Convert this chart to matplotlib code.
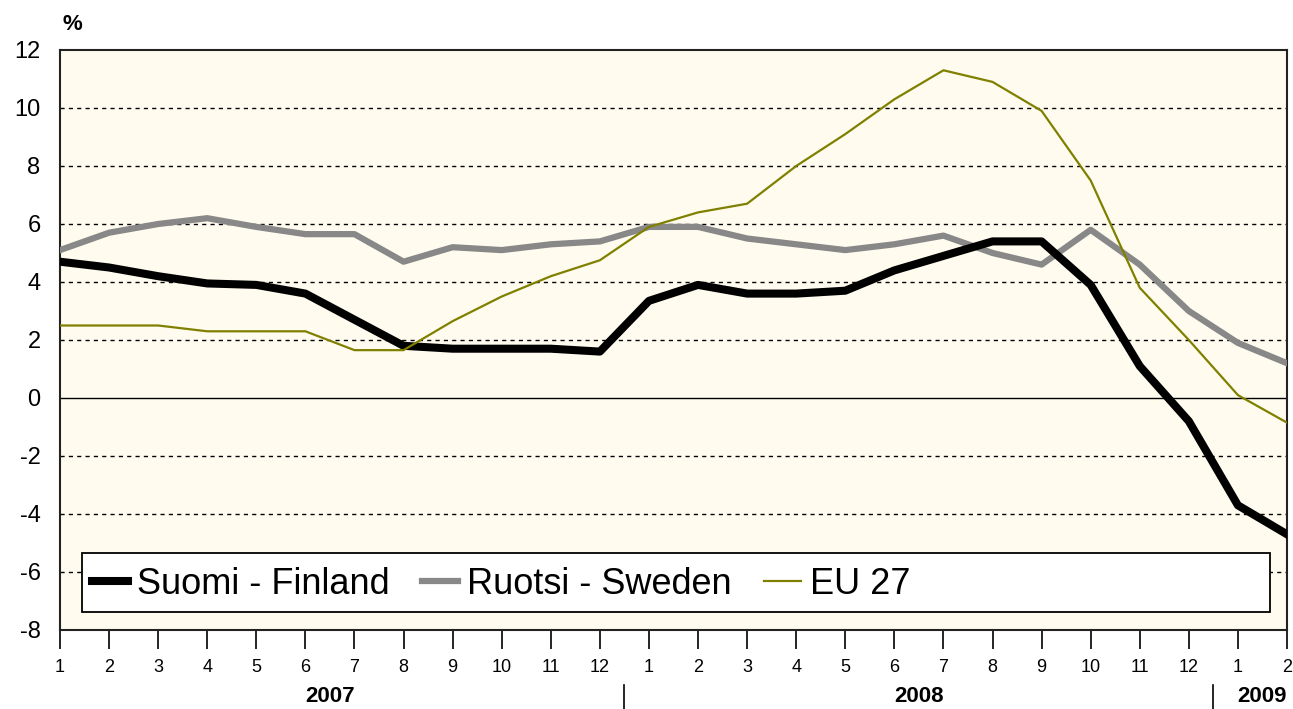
import numpy as np
import matplotlib.pyplot as plt
from matplotlib.patches import Rectangle

plt.rcParams['font.family'] = ['Liberation Sans', 'DejaVu Sans']

# month labels, 2007-01 .. 2009-02
months = [str(m) for m in range(1, 13)] * 2 + ['1', '2']
years = ['2007', '2008', '2009']

finland = [4.7, 4.5, 4.2, 3.95, 3.9, 3.6, 2.7, 1.8, 1.7, 1.7, 1.7, 1.6,
           3.35, 3.9, 3.6, 3.6, 3.7, 4.4, 4.9, 5.4, 5.4, 3.9, 1.1, -0.8,
           -3.7, -4.7]
sweden = [5.1, 5.7, 6.0, 6.2, 5.9, 5.65, 5.65, 4.7, 5.2, 5.1, 5.3, 5.4,
          5.9, 5.9, 5.5, 5.3, 5.1, 5.3, 5.6, 5.0, 4.6, 5.8, 4.6, 3.0,
          1.9, 1.2]
eu27 = [2.5, 2.5, 2.5, 2.3, 2.3, 2.3, 1.65, 1.65, 2.65, 3.5, 4.2, 4.75,
        5.9, 6.4, 6.7, 8.0, 9.1, 10.3, 11.3, 10.9, 9.9, 7.5, 3.8, 2.0,
        0.1, -0.85]

x = np.arange(len(months))

fig = plt.figure(figsize=(12.93, 7.09), dpi=100)
ax = fig.add_axes([60/1293, 1 - 630/709, 1227/1293, 580/709])
ax.set_facecolor('#fffcef')

# grid lines
for yv in range(-6, 12, 2):
    if yv == 0:
        ax.axhline(0, color='black', linewidth=1.0, zorder=1)
    else:
        ax.axhline(yv, color='black', linewidth=1.0, linestyle=(0, (3, 3)), zorder=1)

ax.plot(x, finland, color='black', linewidth=5.8, label='Suomi - Finland', zorder=4)
ax.plot(x, sweden, color='#888888', linewidth=4.5, label='Ruotsi - Sweden', zorder=3)
ax.plot(x, eu27, color='#808000', linewidth=1.6, label='EU 27', zorder=5)

ax.set_xlim(0, len(months) - 1)
ax.set_ylim(-8, 12)
ax.set_yticks(range(-8, 13, 2))
ax.set_yticklabels([str(v) for v in range(-8, 13, 2)], fontsize=17)
ax.tick_params(axis='y', length=0, pad=14)
ax.set_xticks(x)
ax.set_xticklabels(months, fontsize=13)
ax.tick_params(axis='x', length=14, width=1.2, direction='out', pad=7)

for s in ax.spines.values():
    s.set_linewidth(1.5)
    s.set_color('#222222')

fig.text(72/1293, 1 - 25/709, '%', fontsize=16, fontweight='bold',
         ha='center', va='center')

# year labels and separators
year_centers = [5.5, 17.5, 24.5]
for yc, yl in zip(year_centers, years):
    ax.annotate(yl, xy=(yc, 0), xycoords=('data', 'axes fraction'),
                xytext=(0, -66), textcoords='offset pixels',
                ha='center', va='center', fontsize=16, fontweight='bold')
for sep in [11.5, 23.5]:
    ax.plot([sep, sep], [-8 - 55 / 29, -8 - 79 / 29], color='black', linewidth=1.2,
            clip_on=False)

# legend box
ax.add_patch(Rectangle((22/1227, 18/580), 1188/1227, 59/580, transform=ax.transAxes,
                       facecolor='white', edgecolor='black', linewidth=1.3, zorder=6))
leg = ax.legend(loc='center left', bbox_to_anchor=(0.026, 0.079),
                ncol=3, frameon=False, fontsize=26, handlelength=1.0,
                handletextpad=0.25, columnspacing=0.9, borderaxespad=0,
                borderpad=0)
leg.set_zorder(7)

fig.savefig('out.png', dpi=100)
